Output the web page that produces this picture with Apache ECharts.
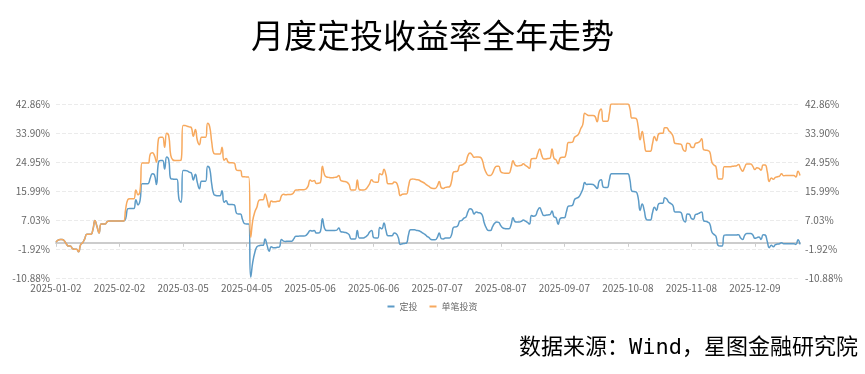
<!DOCTYPE html>
<html>
<head>
<meta charset="utf-8">
<script src="https://cdn.jsdelivr.net/npm/echarts@6/dist/echarts.min.js"></script>
<style>
html,body{margin:0;padding:0;background:#fff;}
#chart{width:865px;height:374px;}
</style>
</head>
<body>
<div id="chart"></div>
<script>
// Category axis: every calendar day from 2025-01-02 to 2025-12-31
const dayCount = 364;
const categories = [];
(function(){
  const d0 = new Date(Date.UTC(2025, 0, 2));
  for (let i = 0; i < dayCount; i++) {
    const d = new Date(d0.getTime() + i * 86400000);
    const m = String(d.getUTCMonth() + 1).padStart(2, '0');
    const dd = String(d.getUTCDate()).padStart(2, '0');
    categories.push(d.getUTCFullYear() + '-' + m + '-' + dd);
  }
})();

const seriesNames = ['定投', '单笔投资'];

// 定投 (monthly DCA) cumulative return, %
const dcaValues = [
  0.2, 0.8, 1.0, 1.0, 0.6, -0.3, -1.0, -1.0, -1.8, -2.0,
  -2.0, -2.8, -0.6, 0.0, 1.2, 2.6, 2.6, 2.6, 4.0, 6.9,
  5.0, 3.0, 5.8, 5.8, 5.8, 6.5, 6.7, 6.7, 6.7, 6.7,
  6.7, 6.7, 6.7, 6.7, 7.5, 10.5, 10.6, 10.6, 10.6, 13.3,
  11.7, 13.0, 18.2, 18.2, 18.2, 18.3, 20.0, 21.3, 21.0, 18.0,
  24.9, 25.4, 25.4, 22.8, 26.5, 25.6, 19.8, 19.7, 19.6, 19.6,
  13.5, 12.5, 22.3, 22.3, 22.2, 21.8, 21.6, 19.4, 21.2, 18.5,
  16.7, 19.0, 19.0, 19.0, 23.6, 22.8, 18.0, 15.0, 14.6, 14.5,
  14.5, 16.1, 12.5, 13.0, 11.9, 11.8, 11.8, 11.7, 9.2, 8.9,
  8.9, 7.2, 5.9, 5.8, 5.8, -10.6, -6.0, -3.0, -1.3, -0.9,
  -0.8, -0.8, 1.2, -0.8, -2.6, -1.2, -1.5, -1.5, -1.4, -1.3,
  1.0, 0.5, 0.4, 0.5, 0.5, 0.5, 1.2, 2.0, 2.0, 2.1,
  2.1, 2.1, 2.3, 3.0, 3.8, 3.6, 3.8, 3.0, 3.0, 3.5,
  7.4, 4.5, 3.8, 3.8, 3.8, 3.8, 3.8, 3.9, 4.6, 3.4,
  3.3, 3.2, 3.0, 2.5, 1.2, 1.2, 1.2, 3.8, 1.5, 1.5,
  1.5, 1.8, 2.3, 3.3, 3.8, 1.6, 1.5, 1.5, 4.7, 4.3,
  6.1, 3.8, 2.2, 2.2, 2.2, 3.0, 2.8, 1.6, -0.5, -0.3,
  -0.2, -0.1, 2.5, 4.0, 4.0, 4.0, 3.8, 3.7, 3.4, 3.0,
  2.6, 2.0, 1.6, 1.0, 0.9, 0.9, 1.6, 3.0, 1.3, 1.2,
  1.5, 1.5, 1.5, 2.5, 4.8, 4.9, 5.2, 6.7, 6.9, 7.6,
  7.9, 9.6, 10.5, 10.2, 8.9, 9.5, 9.3, 9.2, 8.5, 6.0,
  4.5, 3.8, 3.8, 5.0, 6.0, 6.4, 6.3, 5.3, 4.6, 4.4,
  4.3, 4.3, 5.5, 7.7, 6.5, 6.4, 6.4, 6.6, 7.0, 6.7,
  6.3, 5.8, 8.4, 8.2, 8.4, 10.0, 10.8, 9.5, 8.4, 8.5,
  8.6, 8.7, 9.8, 8.0, 7.7, 5.7, 7.5, 7.7, 7.7, 9.5,
  11.3, 11.4, 11.6, 13.3, 13.8, 14.1, 15.1, 16.5, 18.6, 18.0,
  18.1, 18.1, 18.0, 17.5, 16.8, 19.0, 19.5, 17.2, 17.1, 17.1,
  19.5, 21.3, 21.3, 21.3, 21.3, 21.3, 21.3, 21.3, 21.3, 21.3,
  19.5, 15.9, 15.8, 15.7, 14.0, 10.0, 12.0, 10.0, 7.2, 7.0,
  7.0, 9.2, 11.0, 10.0, 12.0, 12.2, 12.2, 13.9, 13.5, 12.5,
  12.1, 11.5, 9.5, 9.5, 9.5, 9.3, 7.2, 6.4, 8.9, 8.8,
  7.5, 7.3, 8.7, 8.9, 9.2, 9.5, 6.8, 6.6, 6.4, 5.8,
  3.3, 2.6, 2.0, -0.8, -1.0, -1.0, 2.3, 2.4, 2.4, 2.4,
  2.4, 2.4, 2.4, 2.5, 1.5, 1.0, 2.3, 2.9, 2.9, 2.9,
  2.4, 1.4, 1.6, 1.8, 1.0, 2.5, 2.4, 0.5, -1.5, -0.8,
  -1.2, -0.6, -0.4, -0.3, 0.0, -0.3, -0.3, -0.3, -0.3, -0.3,
  -0.3, -0.5, 0.9, -0.5
];

// 单笔投资 (lump sum) cumulative return, %
const lumpValues = [
  0.2, 0.8, 1.0, 1.0, 0.6, -0.3, -1.0, -1.0, -1.8, -2.0,
  -2.0, -2.8, -0.6, 0.0, 1.2, 2.6, 2.6, 2.6, 4.0, 6.9,
  5.0, 3.0, 5.8, 5.8, 5.8, 6.5, 6.7, 6.7, 6.7, 6.7,
  6.7, 6.7, 6.7, 6.7, 10.5, 13.3, 13.6, 13.6, 13.6, 16.3,
  14.8, 16.0, 24.6, 24.6, 24.6, 24.6, 27.4, 27.8, 27.0, 24.9,
  32.1, 32.6, 32.6, 29.5, 33.8, 33.0, 27.0, 25.6, 25.4, 25.4,
  25.4, 25.5, 36.2, 36.2, 36.0, 35.8, 35.6, 32.9, 35.0, 31.5,
  30.3, 32.6, 32.6, 32.6, 36.9, 35.8, 31.0, 27.6, 27.4, 27.4,
  27.4, 29.5, 25.5, 26.0, 24.9, 24.7, 24.7, 24.6, 22.5, 22.3,
  22.3, 20.4, 20.4, 20.3, 20.3, 1.7, 6.9, 9.5, 11.0, 13.1,
  13.3, 13.3, 15.1, 13.2, 11.0, 12.9, 12.7, 12.7, 12.8, 12.9,
  14.5, 15.0, 14.8, 14.9, 14.9, 15.0, 15.5, 16.3, 16.3, 16.4,
  16.4, 16.4, 16.6, 17.5, 19.4, 19.0, 19.2, 18.3, 18.4, 18.6,
  23.6, 21.0, 20.3, 20.2, 20.1, 20.1, 20.2, 20.3, 20.8, 19.2,
  19.0, 18.9, 18.7, 18.0, 16.3, 16.3, 16.3, 19.4, 16.4, 16.3,
  16.3, 16.5, 17.2, 18.2, 19.5, 18.8, 18.7, 18.7, 21.3, 21.0,
  22.7, 21.0, 18.2, 18.2, 18.2, 18.8, 18.6, 17.0, 14.6, 15.0,
  15.1, 15.1, 17.5, 19.6, 19.7, 19.6, 19.5, 19.4, 19.0, 18.7,
  18.3, 17.8, 17.4, 16.9, 16.8, 16.8, 17.5, 18.9, 17.0, 16.8,
  17.1, 17.2, 17.3, 19.0, 21.9, 22.0, 22.2, 23.9, 24.0, 24.4,
  24.9, 27.0, 27.7, 27.2, 26.4, 26.5, 26.5, 26.4, 25.5, 23.0,
  21.5, 20.8, 20.8, 21.5, 23.0, 23.6, 23.6, 22.0, 21.6, 21.5,
  21.5, 21.5, 23.0, 25.3, 24.0, 23.7, 23.8, 23.9, 24.4, 23.9,
  23.5, 23.0, 25.9, 26.0, 26.0, 27.5, 29.0, 27.0, 25.9, 25.9,
  26.0, 26.1, 29.0, 26.0, 25.6, 24.4, 26.2, 26.4, 26.4, 28.0,
  31.0, 31.0, 31.1, 32.6, 33.0, 33.6, 35.2, 36.5, 40.0, 39.6,
  39.3, 39.3, 39.3, 39.0, 37.4, 40.3, 41.3, 37.5, 37.5, 37.5,
  40.0, 42.86, 42.86, 42.86, 42.86, 42.86, 42.86, 42.86, 42.86, 42.86,
  41.5, 38.5, 38.5, 38.4, 36.0, 31.8, 34.4, 31.0, 28.3, 28.3,
  28.3, 30.5, 32.8, 31.5, 33.6, 33.8, 33.8, 35.5, 35.5, 34.6,
  34.0, 33.0, 30.7, 30.6, 30.5, 30.4, 28.8, 28.3, 30.7, 30.6,
  29.5, 29.4, 30.7, 30.9, 31.2, 32.1, 28.7, 28.6, 28.5, 28.0,
  24.9, 24.0, 23.5, 19.8, 19.7, 19.7, 23.5, 23.5, 23.5, 23.5,
  23.6, 23.7, 23.8, 24.2, 23.0, 22.1, 23.3, 24.3, 24.3, 24.3,
  23.6, 22.6, 23.2, 23.0, 22.4, 24.0, 24.0, 22.0, 18.9, 20.0,
  19.6, 20.2, 20.4, 20.6, 21.3, 20.7, 20.8, 20.8, 20.8, 20.8,
  20.8, 20.3, 22.1, 20.8
];

const yMin = -10.88;
const yMax = 42.86;
const ySteps = 6;

const titleText = '月度定投收益率全年走势';
const sourceText = '数据来源：Wind，星图金融研究院';

const colors = ['#5C9BC7', '#F7A95E'];
const yInterval = (yMax - yMin) / ySteps;
const fmt = v => v.toFixed(2) + '%';

const chart = echarts.init(document.getElementById('chart'), null, {renderer: 'canvas'});
const baseFont = '"Microsoft YaHei","Noto Sans CJK SC",sans-serif';
const yAxisCommon = {
  type: 'value', min: yMin, max: yMax, interval: yInterval,
  axisLine: {show: false}, axisTick: {show: false},
  axisLabel: {formatter: fmt, color: '#666', fontSize: 10, fontFamily: baseFont}
};
chart.setOption({
  animation: false,
  color: colors,
  title: {
    text: titleText, left: 'center', top: 14,
    textStyle: {fontSize: 33, fontWeight: 'normal', color: '#000', fontFamily: '"Noto Sans CJK SC",sans-serif'}
  },
  legend: {
    data: seriesNames, bottom: 58, left: 'center',
    icon: 'rect', itemWidth: 7, itemHeight: 2, itemGap: 12,
    textStyle: {fontSize: 9, color: '#666', fontFamily: baseFont}
  },
  grid: {left: 56, right: 65, top: 104, bottom: 96},
  xAxis: [
    {
      type: 'category', data: categories, boundaryGap: false,
      axisLine: {onZero: true, lineStyle: {color: '#ccc', width: 2}},
      axisTick: {show: true, interval: 30, length: 4, lineStyle: {color: '#ccc'}},
      axisLabel: {show: false}, splitLine: {show: false}
    },
    {
      type: 'category', data: categories, boundaryGap: false, position: 'bottom',
      axisLine: {show: false, onZero: false}, axisTick: {show: false},
      axisLabel: {interval: 30, color: '#666', fontSize: 10, margin: 5, fontFamily: baseFont},
      splitLine: {show: false}
    }
  ],
  yAxis: [
    Object.assign({}, yAxisCommon, {position: 'left', axisLabel: Object.assign({}, yAxisCommon.axisLabel, {margin: 6}),
      splitLine: {show: true, lineStyle: {color: '#ebebeb', type: 'dashed'}}}),
    Object.assign({}, yAxisCommon, {position: 'right', axisLabel: Object.assign({}, yAxisCommon.axisLabel, {margin: 5}),
      splitLine: {show: false}})
  ],
  series: [
    {name: seriesNames[0], type: 'line', data: dcaValues, xAxisIndex: 0, yAxisIndex: 0,
     symbol: 'none', smooth: true, lineStyle: {width: 1.5, color: colors[0]}, z: 2},
    {name: seriesNames[1], type: 'line', data: lumpValues, xAxisIndex: 0, yAxisIndex: 0,
     symbol: 'none', smooth: true, lineStyle: {width: 1.5, color: colors[1]}, z: 3}
  ],
  graphic: [{
    type: 'text', right: 7, top: 337,
    style: {text: sourceText, fill: '#000', font: '22px "DejaVu Sans Mono","Noto Sans CJK SC",monospace'}
  }]
});
</script>
</body>
</html>
